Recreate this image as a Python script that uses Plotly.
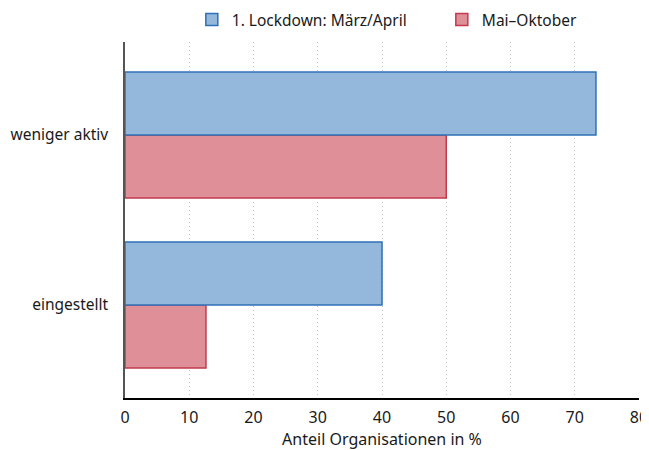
import plotly.graph_objects as go

categories = ["eingestellt", "weniger aktiv"]
lockdown = [40.0, 73.3]
mai_okt = [12.6, 50.0]
x_ticks = [0, 10, 20, 30, 40, 50, 60, 70, 80]

font_family = "Noto Sans, Open Sans, sans-serif"

fig = go.Figure()
fig.add_trace(go.Bar(
    y=categories, x=mai_okt, orientation="h", name="Mai–Oktober",
    marker=dict(color="#de8f98", line=dict(color="#c23a4c", width=1.5)),
))
fig.add_trace(go.Bar(
    y=categories, x=lockdown, orientation="h", name="1. Lockdown: März/April",
    marker=dict(color="#94b8dc", line=dict(color="#2f70b7", width=1.5)),
))

# the page body adds an 8px offset; the figure is sized to fit the 649x450 window
fig.update_layout(
    width=641, height=442,
    margin=dict(l=117, r=10, t=34, b=52, autoexpand=False),
    barmode="group", bargap=0.26, bargroupgap=0,
    plot_bgcolor="white", paper_bgcolor="white",
    font=dict(family=font_family, size=16, color="#1a1a1a"),
    legend=dict(orientation="h", traceorder="reversed", x=0.13, xanchor="left",
                y=1.062, yanchor="middle", font=dict(size=15.5),
                entrywidth=205, entrywidthmode="pixels",
                bgcolor="rgba(0,0,0,0)"),
    xaxis=dict(range=[0, 80], tickvals=x_ticks, showgrid=True,
               gridcolor="#c4c4c4", griddash="1px,3px", gridwidth=1,
               showline=True, linecolor="#000", linewidth=1.5,
               ticks="", zeroline=False, automargin=False, ticklabelstandoff=4,
               title=dict(text="Anteil Organisationen in %", font=dict(size=16), standoff=4)),
    yaxis=dict(type="category", categoryorder="array", categoryarray=categories,
               range=[-0.547, 1.547], showgrid=False, showline=True,
               linecolor="#555", linewidth=1.5, ticks="", ticklabelstandoff=12,
               tickfont=dict(size=15.5), automargin=False),
)

fig.write_html("out.html")
